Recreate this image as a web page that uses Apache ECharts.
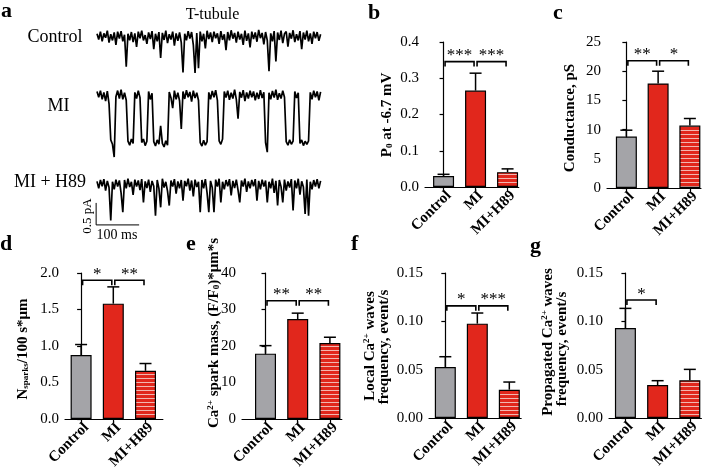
<!DOCTYPE html>
<html><head><meta charset="utf-8">
<script src="https://cdn.jsdelivr.net/npm/echarts@6/dist/echarts.min.js"></script>
<style>html,body{margin:0;padding:0;background:#fff}#c{width:708px;height:468px}</style>
</head><body><div id="c"></div>
<script>
// ---------------- DATA ----------------
const categories = ['Control', 'MI', 'MI+H89'];

// panel b: Po at -6.7 mV
const bMean = [0.030, 0.266, 0.041];
const bErrTop = [0.035, 0.314, 0.050];
const bSigPairs = [[0, 1], [1, 2]];
const bSigText = ['***', '***'];
const bSigLevel = [0.346, 0.346];
const bTicks = { max: 0.4, interval: 0.1, decimals: 1 };

// panel c: conductance, pS
const cMean = [8.8, 17.9, 10.7];
const cErrTop = [9.9, 20.0, 11.9];
const cSigPairs = [[0, 1], [1, 2]];
const cSigText = ['**', '*'];
const cSigLevel = [21.8, 21.8];
const cTicks = { max: 25, interval: 5, decimals: 0 };

// panel d: Nsparks / 100 s*um
const dMean = [0.877, 1.58, 0.66];
const dErrTop = [1.02, 1.81, 0.76];
const dSigPairs = [[0, 1], [1, 2]];
const dSigText = ['*', '**'];
const dSigLevel = [1.90, 1.90];
const dTicks = { max: 2.0, interval: 0.5, decimals: 1 };

// panel e: Ca spark mass
const eMean = [17.9, 27.4, 20.8];
const eErrTop = [20.1, 29.0, 22.4];
const eSigPairs = [[0, 1], [1, 2]];
const eSigText = ['**', '**'];
const eSigLevel = [32.4, 32.4];
const eTicks = { max: 40, interval: 10, decimals: 0 };

// panel f: local Ca waves frequency
const fMean = [0.0528, 0.0976, 0.0293];
const fErrTop = [0.0634, 0.1086, 0.0372];
const fSigPairs = [[0, 1], [1, 2]];
const fSigText = ['*', '***'];
const fSigLevel = [0.116, 0.116];
const fTicks = { max: 0.15, interval: 0.05, decimals: 2 };

// panel g: propagated Ca waves frequency
const gMean = [0.0931, 0.0341, 0.039];
const gErrTop = [0.1134, 0.0386, 0.0503];
const gSigPairs = [[0, 1]];
const gSigText = ['*'];
const gSigLevel = [0.122];
const gTicks = { max: 0.15, interval: 0.05, decimals: 2 };

// panel a: single-channel traces (pA, sampled every traceDt ms)
const traceDt = 4;
const traceControl = [
 0.05,-0.08,0.1,-0.12,0.06,-0.04,0.12,-0.15,0.04,-0.1,
 0.08,-0.2,0.1,-0.06,0.11,-0.12,0.03,-0.7,0.05,-0.1,
 0.09,-0.14,0.06,-0.25,0.1,-0.05,0.12,-0.1,0.02,-0.18,
 0.08,-0.07,0.11,-0.3,0.05,-0.12,0.09,-0.5,0.07,-0.09,
 0.12,-0.16,0.04,-0.08,0.1,-0.22,0.06,-0.11,0.08,-0.15,
 -0.83,0.05,-0.1,0.11,-0.06,0.09,-0.2,-0.84,0.07,-0.73,
 0.1,-0.12,0.05,-0.28,0.12,-0.07,0.08,-0.14,0.1,-0.05,
 0.06,-0.18,0.11,-0.09,0.04,-0.32,0.09,-0.1,0.13,-0.06,
 0.07,-0.15,0.1,-0.08,0.05,-0.2,0.12,-0.11,0.06,-0.26,
 0.1,-0.07,0.08,-0.13,0.14,-0.05,0.07,-0.19,0.09,-0.1,
 -0.8,0.06,-0.12,0.11,-0.58,0.08,-0.09,0.12,-0.16,0.05,
 0.1,-0.24,0.07,-0.06,0.13,-0.14,0.04,-0.1,0.11,-0.3,
 0.08,-0.08,0.12,-0.12,0.06,-0.18,0.1,-0.05,0.09,-0.11,
 0.04];
const traceMI = [
 0.08,-0.05,0.1,-0.1,0.06,-0.14,0.09,-0.2,-1.02,-1.12,
 -1.41,-0.04,0.1,-0.08,0.12,-0.1,0.05,-0.12,-1.05,-1.14,
 -1.0,-1.1,0.06,-0.08,0.1,-0.06,-1.08,-1.0,-1.15,-1.05,
 0.08,-0.1,0.04,-1.06,-1.16,-1.02,-1.12,-0.7,-1.1,-1.18,
 -1.04,-1.14,0.07,-0.06,-0.3,0.1,-0.1,0.05,-0.13,-0.77,
 0.08,-0.09,0.11,-0.05,0.07,-0.15,0.1,-0.07,0.05,-0.12,
 -1.08,-1.16,-1.03,-1.14,-1.06,0.06,-0.1,0.09,-0.05,0.11,
 -0.12,-1.04,-1.12,-1.0,0.08,-0.06,0.1,-0.11,0.05,-0.08,
 0.12,-0.1,-0.54,0.07,-0.06,0.11,-0.14,0.06,-0.08,0.1,
 -0.05,0.08,-0.12,0.05,-0.09,0.11,-0.07,0.06,-1.08,-1.3,
 0.05,-0.1,0.09,-0.06,0.12,-0.11,0.04,-0.08,0.1,-0.05,
 -1.06,-1.14,-1.02,-1.12,-1.05,0.08,-0.07,0.05,-1.1,-1.02,
 -1.15,-1.05,-1.12,-1.04,0.06,-0.1,0.1,-0.05,0.08,-0.12,
 0.07];
const traceH89 = [
 0.06,-0.1,0.09,-0.05,0.11,-0.15,0.07,-0.08,-0.83,0.05,
 -0.12,0.1,-0.06,0.08,-0.2,-0.64,0.09,-0.1,0.12,-0.07,
 0.05,-0.25,0.1,-0.06,0.08,-0.14,0.11,-0.42,0.06,-0.09,
 0.1,-0.18,0.07,-0.05,-0.72,0.09,-0.1,-0.53,0.12,-0.08,
 0.05,-0.16,-0.49,0.08,-0.06,0.11,-0.22,0.06,-0.1,0.09,
 -0.38,0.07,-0.05,0.12,-0.15,0.08,-0.28,0.1,-0.07,0.05,
 -0.64,0.09,-0.1,0.11,-0.2,-0.64,0.07,-0.08,-0.64,0.1,
 -0.06,0.12,-0.42,0.05,-0.12,0.09,-0.05,0.11,-0.26,0.07,
 -0.09,0.1,-0.14,-0.42,0.08,-0.06,0.12,-0.18,0.06,-0.1,
 0.09,-0.05,0.11,-0.38,0.07,-0.12,0.1,-0.06,0.08,-0.42,
 0.05,-0.1,0.12,-0.2,0.07,-0.49,0.09,-0.06,-0.42,0.1,
 -0.15,0.06,-0.08,0.11,-0.6,0.08,-0.1,0.12,-0.24,0.06,
 -0.07,-0.68,0.1,-0.72,0.05,-0.12,0.09,-0.06,0.11,-0.1,
 0.07];
// scale bar: 100 ms x 0.5 pA (data units of the bottom trace)
const scaleBarMs = [-2, -2, 98];
const scaleBarPa = [-0.43, -0.93, -0.93];

// ---------------- STYLE ----------------
const SERIF = '"Liberation Serif", "Times New Roman", serif';
const RED = '#e1271c';
const GRAY = '#a4a4a8';
const STRIPE = '#f2b6b0';

function stripeCanvas() {
  const c = document.createElement('canvas'); c.width = 4; c.height = 4;
  const ctx = c.getContext('2d');
  ctx.fillStyle = RED; ctx.fillRect(0, 0, 4, 4);
  ctx.fillStyle = STRIPE; ctx.fillRect(0, 2, 4, 1);
  return c;
}
const stripe = { image: stripeCanvas(), repeat: 'repeat' };
const barColors = [GRAY, RED, stripe];
const AX = { color: '#000', width: 1.2 };

const option = { animation: false, backgroundColor: '#fff', grid: [], xAxis: [], yAxis: [], series: [], graphic: { elements: [] } };

// ---------------- TRACES ----------------
const PX_MS = 0.43, PX_PA = 44, T0 = -8, T1 = 522, TRACE_X = 97;
function addTrace(values, baseY, yMin, yMax, extra) {
  const gi = option.grid.length;
  option.grid.push({ left: TRACE_X + T0 * PX_MS, width: (T1 - T0) * PX_MS, top: baseY - yMax * PX_PA, height: (yMax - yMin) * PX_PA, containLabel: false, outerBoundsMode: 'none' });
  option.xAxis.push({ gridIndex: gi, type: 'value', min: T0, max: T1, show: false });
  option.yAxis.push({ gridIndex: gi, type: 'value', min: yMin, max: yMax, show: false });
  option.series.push({ type: 'line', xAxisIndex: gi, yAxisIndex: gi, symbol: 'none', silent: true,
    data: values.map((v, i) => [i * traceDt, v]), lineStyle: { color: '#000', width: 1.7 } });
  if (extra) option.series.push(Object.assign({ xAxisIndex: gi, yAxisIndex: gi }, extra));
}
addTrace(traceControl, 36, -1.0, 0.25);
addTrace(traceMI, 95, -1.5, 0.25);
addTrace(traceH89, 184, -1.25, 0.25, { type: 'line', symbol: 'none', silent: true,
  data: scaleBarMs.map((t, i) => [t, scaleBarPa[i]]), lineStyle: { color: '#000', width: 1 } });

// ---------------- BAR PANELS ----------------
function addBarPanel(p) {
  const gi = option.grid.length;
  option.grid.push({ left: p.axisX, top: p.top, height: p.height, width: (p.xmax - p.xmin) * p.spacing, containLabel: false, outerBoundsMode: 'none' });
  option.xAxis.push({ gridIndex: gi, type: 'value', min: p.xmin, max: p.xmax,
    axisLine: { show: true, onZero: false, lineStyle: AX },
    axisTick: { show: true, customValues: [0, 1, 2], length: 4, lineStyle: AX },
    splitLine: { show: false },
    axisLabel: { customValues: [0, 1, 2], rotate: 45, margin: 1, verticalAlign: 'top', fontFamily: SERIF, fontWeight: 'bold', fontSize: 15, color: '#000',
      formatter: v => categories[Math.round(v)] } });
  option.yAxis.push({ gridIndex: gi, type: 'value', min: 0, max: p.ticks.max, interval: p.ticks.interval,
    axisLine: { show: true, lineStyle: AX },
    axisTick: { show: true, length: 4, lineStyle: AX },
    splitLine: { show: false },
    axisLabel: { margin: 6, fontFamily: SERIF, fontSize: 15, color: '#000', formatter: v => v.toFixed(p.ticks.decimals) } });
  option.series.push({ type: 'bar', xAxisIndex: gi, yAxisIndex: gi, barWidth: 21, silent: true, z: 2,
    data: p.mean.map((m, i) => ({ value: [i, m], itemStyle: { color: barColors[i], borderColor: '#000', borderWidth: 1.2 } })) });
  option.series.push({ type: 'custom', xAxisIndex: gi, yAxisIndex: gi, silent: true, z: 3,
    data: p.mean.map((m, i) => [i, m, p.err[i]]),
    renderItem: (params, api) => {
      const a = api.coord([api.value(0), api.value(1)]);
      const b = api.coord([api.value(0), api.value(2)]);
      const st = { stroke: '#000', lineWidth: 1.5 };
      return { type: 'group', children: [
        { type: 'line', shape: { x1: a[0], y1: a[1], x2: b[0], y2: b[1] }, style: st },
        { type: 'line', shape: { x1: b[0] - 6, y1: b[1], x2: b[0] + 6, y2: b[1] }, style: st } ] };
    } });
  option.series.push({ type: 'custom', xAxisIndex: gi, yAxisIndex: gi, silent: true, z: 4,
    data: p.pairs.map((pr, i) => [pr[0], pr[1], p.level[i]]),
    renderItem: (params, api) => {
      const a = api.coord([api.value(0), api.value(2)]);
      const b = api.coord([api.value(1), api.value(2)]);
      const x1 = a[0] + 1.5, x2 = b[0] - 1.5, y = a[1];
      return { type: 'group', children: [
        { type: 'polyline', shape: { points: [[x1, y + 5], [x1, y], [x2, y], [x2, y + 5]] }, style: { stroke: '#000', lineWidth: 1.6, fill: 'none' } },
        { type: 'text', x: (x1 + x2) / 2, y: y - 6, style: { text: p.text[params.dataIndex], fontFamily: SERIF, fontSize: 17, fill: '#000', align: 'center', verticalAlign: 'middle' } } ] };
    } });
}
addBarPanel({ axisX: 425, top: 42, height: 145, spacing: 32, xmin: -0.58, xmax: 2.35, ticks: bTicks, mean: bMean, err: bErrTop, pairs: bSigPairs, text: bSigText, level: bSigLevel });
addBarPanel({ axisX: 607, top: 42, height: 146, spacing: 31.75, xmin: -0.61, xmax: 2.35, ticks: cTicks, mean: cMean, err: cErrTop, pairs: cSigPairs, text: cSigText, level: cSigLevel });
addBarPanel({ axisX: 65, top: 273, height: 146, spacing: 32.2, xmin: -0.5, xmax: 2.54, ticks: dTicks, mean: dMean, err: dErrTop, pairs: dSigPairs, text: dSigText, level: dSigLevel });
addBarPanel({ axisX: 242, top: 273, height: 146, spacing: 32.2, xmin: -0.73, xmax: 2.37, ticks: eTicks, mean: eMean, err: eErrTop, pairs: eSigPairs, text: eSigText, level: eSigLevel });
addBarPanel({ axisX: 429, top: 273, height: 145, spacing: 32, xmin: -0.51, xmax: 2.37, ticks: fTicks, mean: fMean, err: fErrTop, pairs: fSigPairs, text: fSigText, level: fSigLevel });
addBarPanel({ axisX: 609, top: 273, height: 145, spacing: 32.2, xmin: -0.51, xmax: 2.36, ticks: gTicks, mean: gMean, err: gErrTop, pairs: gSigPairs, text: gSigText, level: gSigLevel });

// ---------------- TEXT ----------------
const G = option.graphic.elements;
function txt(x, y, text, size, opts) {
  opts = opts || {};
  G.push({ type: 'text', x, y, rotation: opts.rot || 0, silent: true,
    style: { text, fontFamily: SERIF, fontSize: size, fontWeight: opts.bold ? 'bold' : 'normal', fill: '#000',
      align: opts.align || 'center', verticalAlign: 'middle', rich: opts.rich } });
}
// panel letters
txt(1, 11.5, 'a', 22, { bold: true, align: 'left' });
txt(368, 13, 'b', 22, { bold: true, align: 'left' });
txt(553, 13, 'c', 22, { bold: true, align: 'left' });
txt(0, 244.5, 'd', 22, { bold: true, align: 'left' });
txt(186, 244.5, 'e', 22, { bold: true, align: 'left' });
txt(351, 244.5, 'f', 22, { bold: true, align: 'left' });
txt(530, 246, 'g', 22, { bold: true, align: 'left' });
// panel a text
txt(212.5, 14.5, 'T-tubule', 16);
txt(55, 37, 'Control', 18);
txt(58.5, 106, 'MI', 18);
txt(50, 182, 'MI + H89', 18);
txt(88, 216, '0.5 pA', 13, { rot: Math.PI / 2 });
txt(117, 235.5, '100 ms', 14);
// y-axis titles (rich text for sub/superscripts)
const RICH = {
  b: { fontFamily: SERIF, fontSize: 15, fontWeight: 'bold', fill: '#000' },
  sub: { fontFamily: SERIF, fontSize: 9, fontWeight: 'bold', fill: '#000', verticalAlign: 'bottom' },
  sup: { fontFamily: SERIF, fontSize: 9, fontWeight: 'bold', fill: '#000', verticalAlign: 'top' }
};
const R90 = Math.PI / 2;
txt(387, 115, '{b|P}{sub|0}{b| at -6.7 mV}', 15, { rot: R90, rich: RICH });
txt(570, 118, '{b|Conductance, pS}', 15, { rot: R90, rich: RICH });
txt(23, 349, '{b|N}{sub|sparks}{b|/100 s*μm}', 15, { rot: R90, rich: RICH });
txt(214, 333, '{b|Ca}{sup|2+}{b| spark mass, (F/F}{sub|0}{b|)*μm*s}', 15, { rot: R90, rich: RICH });
txt(370, 346, '{b|Local Ca}{sup|2+}{b| waves}', 15, { rot: R90, rich: RICH });
txt(384, 347, '{b|frequency, event/s}', 15, { rot: R90, rich: RICH });
txt(548, 342, '{b|Propagated Ca}{sup|2+}{b| waves}', 15, { rot: R90, rich: RICH });
txt(562, 349, '{b|frequency, event/s}', 15, { rot: R90, rich: RICH });

const chart = echarts.init(document.getElementById('c'), null, { renderer: 'canvas' });
chart.setOption(option);
</script></body></html>
